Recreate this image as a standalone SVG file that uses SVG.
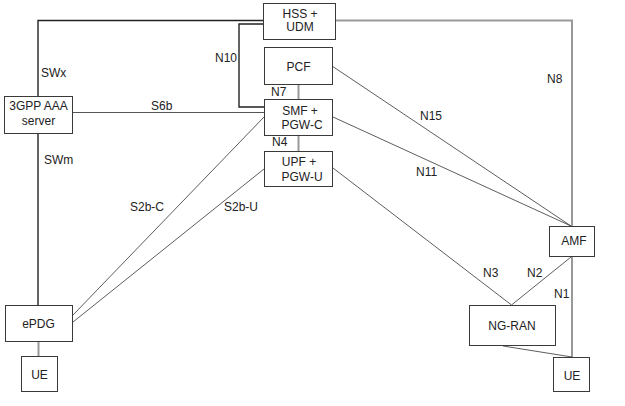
<svg xmlns="http://www.w3.org/2000/svg" width="625" height="406" viewBox="0 0 625 406">
<style>
.box{fill:#fff;stroke:#3a3a3a;stroke-width:1}
text{font-family:"Liberation Sans",Arial,sans-serif;font-size:12px;fill:#222}
.c{text-anchor:middle}
.thin{stroke:#333;stroke-width:0.8;fill:none}
.dark{stroke:#222;stroke-width:1.4;fill:none}
.gray{stroke:#999;stroke-width:2;fill:none}
.mid{stroke:#555;stroke-width:1.2;fill:none}
</style>
<rect width="625" height="406" fill="#fff"/>
<g id="connectors">
<polyline class="dark" points="38,96 38,20.5 263,20.5"/>
<polyline class="gray" points="336,20.5 572,20.5 572,226"/>
<polyline class="dark" points="263,24 239,24 239,107 264,107"/>
<line class="gray" x1="298.5" y1="84" x2="298.5" y2="99"/>
<line class="gray" x1="298.5" y1="135" x2="298.5" y2="151"/>
<line class="mid" x1="73" y1="112.5" x2="264" y2="112.5"/>
<line class="dark" x1="38" y1="133" x2="38" y2="305"/>
<line class="gray" x1="38.5" y1="342" x2="38.5" y2="356"/>
<line class="thin" x1="264" y1="117" x2="73" y2="315"/>
<line class="thin" x1="264" y1="169" x2="73" y2="322"/>
<line class="thin" x1="332" y1="66" x2="571" y2="226"/>
<line class="thin" x1="333" y1="117" x2="571" y2="226"/>
<line class="thin" x1="333" y1="168" x2="511.5" y2="305"/>
<line class="thin" x1="571" y1="257" x2="511.5" y2="305"/>
<line class="gray" x1="572" y1="256" x2="572" y2="357"/>
<line class="thin" x1="503" y1="346" x2="572" y2="357"/>
<text x="215" y="62">N10</text>
<text x="271" y="96">N7</text>
<text x="272" y="146">N4</text>
<text x="41" y="77">SWx</text>
<text x="44" y="164">SWm</text>
<text x="151" y="110">S6b</text>
<text x="130" y="211">S2b-C</text>
<text x="224" y="211">S2b-U</text>
<text x="547" y="83">N8</text>
<text x="420" y="120">N15</text>
<text x="416" y="176">N11</text>
<text x="483" y="277">N3</text>
<text x="527" y="277">N2</text>
<text x="554" y="298">N1</text>
</g>
<g id="hss">
<rect class="box" x="263.5" y="3.5" width="72" height="36"/>
<text class="c" x="300" y="17.5">HSS +</text>
<text class="c" x="300" y="31">UDM</text>
</g>
<g id="pcf">
<rect class="box" x="264.5" y="47.5" width="68" height="37"/>
<text class="c" x="298.5" y="71">PCF</text>
</g>
<g id="smf">
<rect class="box" x="264.5" y="99.5" width="68" height="36"/>
<text class="c" x="300" y="114.5">SMF +</text>
<text class="c" x="302" y="128.5">PGW-C</text>
</g>
<g id="upf">
<rect class="box" x="264.5" y="151.5" width="68" height="35"/>
<text class="c" x="299" y="166">UPF +</text>
<text class="c" x="302" y="181">PGW-U</text>
</g>
<g id="aaa">
<rect class="box" x="4.5" y="96.5" width="68" height="37"/>
<text class="c" x="38.5" y="110">3GPP AAA</text>
<text class="c" x="38.5" y="125">server</text>
</g>
<g id="epdg">
<rect class="box" x="5.5" y="305.5" width="67" height="36"/>
<text class="c" x="38.5" y="327.5">ePDG</text>
</g>
<g id="ue-left">
<rect class="box" x="21.5" y="356.5" width="36" height="35"/>
<text class="c" x="39.5" y="378.5">UE</text>
</g>
<g id="amf">
<rect class="box" x="549.5" y="226.5" width="45" height="30"/>
<text class="c" x="574" y="245">AMF</text>
</g>
<g id="ngran">
<rect class="box" x="469.5" y="305.5" width="86" height="40"/>
<text class="c" x="512" y="330">NG-RAN</text>
</g>
<g id="ue-right">
<rect class="box" x="553.5" y="357.5" width="36" height="34"/>
<text class="c" x="572" y="379.5">UE</text>
</g>
</svg>
